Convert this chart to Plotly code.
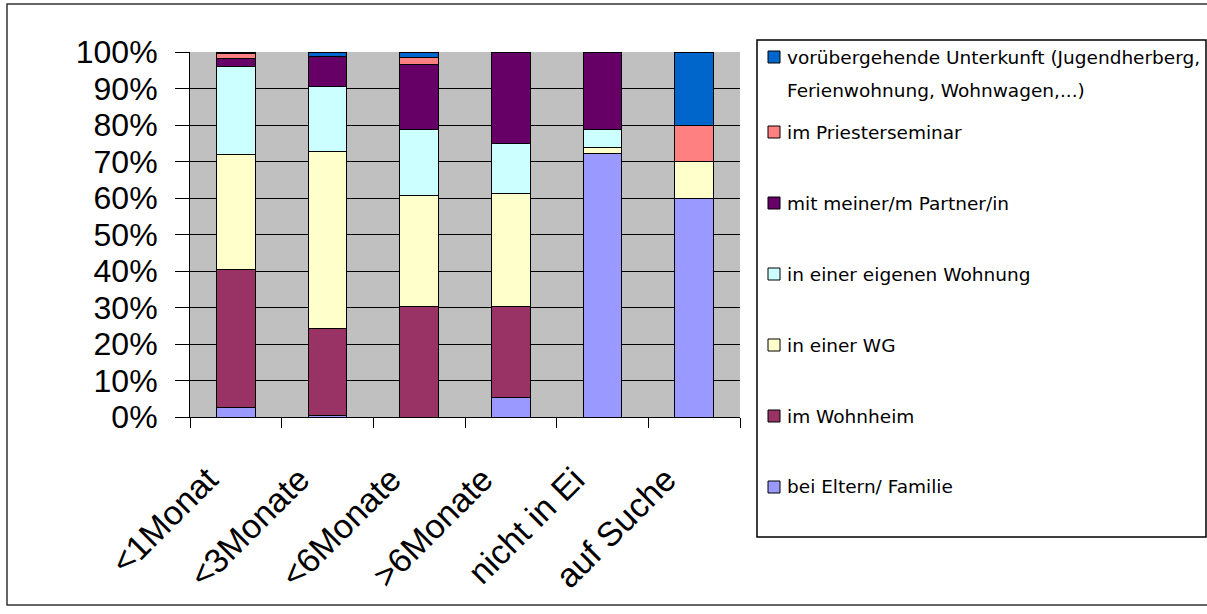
import plotly.graph_objects as go

# Dauer / Status der Wohnungssuche
categories = ["<1Monat", "<3Monate", "<6Monate", ">6Monate", "nicht in Ei", "auf Suche"]

# Anteile je Wohnform in Prozent (von unten nach oben gestapelt)
bei_eltern = [2.5, 0.4, 0.0, 5.4, 72.2, 60.0]
wohnheim = [38.0, 23.9, 30.4, 25.0, 0.0, 0.0]
wg = [31.3, 48.4, 30.4, 30.7, 1.7, 10.0]
eigene_wohnung = [24.2, 17.8, 18.0, 13.9, 4.9, 0.0]
partner = [2.3, 8.2, 17.8, 25.0, 21.2, 0.0]
priesterseminar = [1.2, 0.0, 1.8, 0.0, 0.0, 10.0]
voruebergehend = [0.5, 1.3, 1.6, 0.0, 0.0, 20.0]

series = [
    ("bei Eltern/ Familie", bei_eltern, "#9999FF"),
    ("im Wohnheim", wohnheim, "#993366"),
    ("in einer WG", wg, "#FFFFCC"),
    ("in einer eigenen Wohnung", eigene_wohnung, "#CCFFFF"),
    ("mit meiner/m Partner/in", partner, "#660066"),
    ("im Priesterseminar", priesterseminar, "#FF8080"),
    ("vorübergehende Unterkunft (Jugendherberg,<br>Ferienwohnung, Wohnwagen,...)", voruebergehend, "#0066CC"),
]

y_ticks = list(range(0, 101, 10))
y_ticktext = [f"{v}%" for v in y_ticks]

W, H = 1207, 614
ML, MR, MT, MB = 190, 467, 52, 197
PW, PH = W - ML - MR, H - MT - MB


def px_x(x):
    return (x - ML) / PW


def px_y(y):
    return (H - MB - y) / PH


fig = go.Figure()
for name, vals, color in series:
    fig.add_trace(go.Bar(
        x=categories, y=vals, name=name,
        marker=dict(color=color, line=dict(color="#000000", width=1)),
        showlegend=False,
    ))

AX_FONT = "Liberation Sans, Arial, sans-serif"
LEG_FONT = "DejaVu Sans, sans-serif"

fig.update_layout(
    width=W, height=H,
    margin=dict(l=ML, r=MR, t=MT, b=MB, pad=0),
    barmode="stack", bargap=0.575,
    paper_bgcolor="#FFFFFF", plot_bgcolor="#C0C0C0",
)
fig.update_xaxes(
    type="category",
    tickvals=categories,
    ticktext=[c.replace("<", "&lt;").replace(">", "&gt;") for c in categories],
    tickangle=-45, tickson="boundaries",
    ticks="outside", ticklen=10, tickcolor="#000000", tickwidth=1,
    ticklabelstandoff=28, ticklabelshift=-28,
    tickfont=dict(family=AX_FONT, size=34, color="#000000"),
    showline=True, linecolor="#000000", linewidth=1,
    showgrid=False, zeroline=False,
)
fig.update_yaxes(
    range=[0, 100], tickmode="array", tickvals=y_ticks, ticktext=y_ticktext,
    ticks="outside", ticklen=14, tickcolor="#000000", tickwidth=1,
    ticklabelstandoff=11,
    tickfont=dict(family=AX_FONT, size=32, color="#000000"),
    showline=True, linecolor="#000000", linewidth=1,
    showgrid=True, gridcolor="#000000", gridwidth=1, zeroline=False,
)

shapes = []
annotations = []

# Rahmen um das gesamte Diagramm
shapes.append(dict(type="rect", xref="paper", yref="paper",
                   x0=px_x(7), x1=px_x(1212), y0=px_y(605), y1=px_y(4),
                   line=dict(color="#333333", width=1.5), fillcolor="rgba(0,0,0,0)"))

# Legendenkasten
shapes.append(dict(type="rect", xref="paper", yref="paper",
                   x0=px_x(757), x1=px_x(1206), y0=px_y(537), y1=px_y(40),
                   line=dict(color="#000000", width=1.5), fillcolor="#FFFFFF"))

# Legendeneinträge in umgekehrter Stapelreihenfolge
first_y, step = 57, 71
item_y = [first_y] + [132 + step * k for k in range(len(series) - 1)]
for (name, vals, color), yc in zip(reversed(series), item_y):
    shapes.append(dict(type="rect", xref="paper", yref="paper",
                       x0=px_x(768), x1=px_x(780), y0=px_y(yc + 6), y1=px_y(yc - 6),
                       line=dict(color="#000000", width=1), fillcolor=color))
    for i, line in enumerate(name.split("<br>")):
        annotations.append(dict(
            xref="paper", yref="paper", x=px_x(785), y=px_y(yc + 33 * i),
            xanchor="left", yanchor="middle", showarrow=False, text=line,
            font=dict(family=LEG_FONT, size=18.5, color="#000000"),
        ))

fig.update_layout(shapes=shapes, annotations=annotations)

fig.write_html("out.html")
